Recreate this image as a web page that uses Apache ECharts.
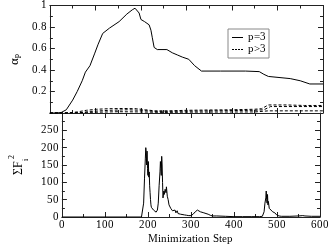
<!DOCTYPE html>
<html><head><meta charset="utf-8">
<script src="https://cdn.jsdelivr.net/npm/echarts@6/dist/echarts.min.js"></script>
<style>
@font-face{font-family:'RefSerif';src:local('Liberation Serif'),local('LiberationSerif'),local('LiberationSerif-Regular'),local('Times New Roman');}
html,body{margin:0;padding:0;background:#fff}#c{width:332px;height:246px}
</style>
</head><body><div id="c"></div>
<script>
// Top panel: alpha_p
const p3Steps = [0,15,25,36,50,60,71,78,88,98,106,116,131,152,169,181,187,191,196,200,208,218,222,225,229,236,257,269,280,291,305,318,333,375,430,460,470,480,528,550,571,600];
const p3Vals  = [0,0,0.005,0.03,0.12,0.2,0.30,0.38,0.44,0.55,0.64,0.74,0.79,0.85,0.92,0.96,0.975,0.97,0.93,0.87,0.85,0.82,0.77,0.70,0.61,0.59,0.59,0.56,0.54,0.52,0.50,0.44,0.39,0.39,0.39,0.385,0.36,0.34,0.32,0.30,0.27,0.27];
const p4Steps = [0,40,60,80,103,130,160,190,210,230,260,300,350,400,450,465,480,520,560,600];
const p4Vals  = [0,0,0.01,0.025,0.035,0.04,0.042,0.04,0.03,0.02,0.02,0.025,0.028,0.03,0.035,0.04,0.075,0.075,0.07,0.07];
const p5Steps = [0,60,90,130,170,200,230,260,350,450,470,485,600];
const p5Vals  = [0,0,0.015,0.025,0.03,0.025,0.015,0.015,0.02,0.025,0.03,0.06,0.06];
const p6Steps = [0,80,150,200,250,300,450,480,600];
const p6Vals  = [0,0.005,0.012,0.01,0.005,0.008,0.01,0.02,0.02];
// Bottom panel: sum F_i^2
const fSteps = [0,185,188,190,192,194,195,196,197,198,199,200,201,202,203,204,205,206,207,208,210,213,216,219,222,224,226,228,229,230,231,232,233,234,235,236,237,238,240,242,243,245,247,249,251,253,255,257,259,261,263,265,268,270,273,276,280,285,290,295,300,305,310,315,318,322,326,330,335,340,345,350,360,380,400,420,440,460,466,470,472,474,475,476,477,478,479,480,482,484,486,490,495,500,505,510,530,550,560,565,580,600];
const fVals  = [0,0,5,40,110,170,200,185,150,190,140,120,160,115,130,90,70,50,35,28,25,20,15,14,20,40,90,130,160,140,120,175,150,100,55,60,75,65,80,70,87,60,50,35,40,25,30,18,22,15,20,12,18,10,12,8,8,6,5,4,4,8,15,20,18,15,16,12,10,8,5,3,3,2,1,1,1,1,2,15,40,55,75,50,40,65,35,45,25,30,20,15,12,5,3,2,2,3,4,3,2,2];
const legendNames = ['p=3','p>3'];

const pairs = (xs, ys) => xs.map((x,i)=>[x, ys[i]]);
const FONT = "RefSerif, 'Liberation Serif', serif";
const AX = '#222';
function xAx(grid, pos, labels, name){
  return {type:'value', gridIndex:grid, position:pos, min:0, max:600, interval:100,
    axisLine:{show:true, onZero:false, lineStyle:{color:AX,width:1}},
    axisTick:{show:true, inside:true, length:5, lineStyle:{color:AX}},
    minorTick:{show:true, splitNumber:2, length:3, lineStyle:{color:AX}},
    splitLine:{show:false},
    axisLabel:{show:labels, color:'#000', fontFamily:FONT, fontSize:11, margin:3},
    name:name||'', nameLocation:'middle', nameGap:17,
    nameTextStyle:{color:'#000', fontFamily:FONT, fontSize:11}};
}
function yAx(grid, pos, labels, min, max, interval, fmt, name, rich){
  return {type:'value', gridIndex:grid, position:pos, min:min, max:max, interval:interval,
    axisLine:{show:true, onZero:false, lineStyle:{color:AX,width:1}},
    axisTick:{show:true, inside:true, length:5, lineStyle:{color:AX}},
    minorTick:{show:true, splitNumber:2, length:3, lineStyle:{color:AX}},
    splitLine:{show:false},
    axisLabel:{show:labels, color:'#000', fontFamily:FONT, fontSize:11, margin:3, formatter:fmt},
    name:name||'', nameLocation:'middle', nameRotate:90, nameGap:24,
    nameTextStyle:{color:'#000', fontFamily:FONT, fontSize:12, rich:rich||{}}};
}
const richA = {
  m:{fontFamily:FONT, fontSize:13, color:'#000', lineHeight:20, verticalAlign:'bottom'},
  s:{fontFamily:FONT, fontSize:8, color:'#000', lineHeight:20, verticalAlign:'bottom'}
};
const richF = {
  m:{fontFamily:FONT, fontSize:12, color:'#000', lineHeight:22, verticalAlign:'middle'},
  s:{fontFamily:FONT, fontSize:8, color:'#000', lineHeight:22, verticalAlign:'bottom'},
  u:{fontFamily:FONT, fontSize:8, color:'#000', lineHeight:22, verticalAlign:'top'}
};
const dashed = {color:'#000', width:1, type:[3,2]};
const option = {
  animation:false,
  backgroundColor:'#fff',
  textStyle:{fontFamily:FONT},
  grid:[{left:38, right:9, top:4, height:109}, {left:38, right:9, top:113, height:110}],
  legend:{left:228, top:29, orient:'vertical', padding:[3,3,3,4], itemGap:1, itemWidth:11, itemHeight:1,
    borderColor:'#888', borderWidth:1, textStyle:{color:'#000', fontFamily:FONT, fontSize:11},
    data:[
      {name:legendNames[0], icon:'path://M0,0H11V1H0Z', itemStyle:{color:'#000'}},
      {name:legendNames[1], icon:'path://M0,0H2V1H0Z M3,0H5V1H3Z M6,0H8V1H6Z M9,0H11V1H9Z', itemStyle:{color:'#000'}}
    ]},
  xAxis:[xAx(0,'bottom',false), xAx(0,'top',false), xAx(1,'bottom',true,'Minimization Step'), xAx(1,'top',false)],
  yAxis:[
    yAx(0,'left',true,0,1,0.2,v=>v===0?'':String(+v.toFixed(1)),'{m|α}{s|p}',richA),
    yAx(0,'right',false,0,1,0.2),
    yAx(1,'left',true,0,300,50,v=>v===300?'':String(v),'{m|ΣF}{s|i}{u|2}',richF),
    yAx(1,'right',false,0,300,50)
  ],
  series:[
    {name:'p=3', type:'line', xAxisIndex:0, yAxisIndex:0, data:pairs(p3Steps,p3Vals), symbol:'none', lineStyle:{color:'#000',width:1}, itemStyle:{color:'#000'}},
    {name:'p>3', type:'line', xAxisIndex:0, yAxisIndex:0, data:pairs(p4Steps,p4Vals), symbol:'none', lineStyle:dashed, itemStyle:{color:'#000'}},
    {name:'p>3', type:'line', xAxisIndex:0, yAxisIndex:0, data:pairs(p5Steps,p5Vals), symbol:'none', lineStyle:dashed, itemStyle:{color:'#000'}},
    {name:'p>3', type:'line', xAxisIndex:0, yAxisIndex:0, data:pairs(p6Steps,p6Vals), symbol:'none', lineStyle:dashed, itemStyle:{color:'#000'}},
    {name:'F', type:'line', xAxisIndex:2, yAxisIndex:2, data:pairs(fSteps,fVals), symbol:'none', lineStyle:{color:'#000',width:1}, itemStyle:{color:'#000'}}
  ]
};
function draw(){
  const chart = echarts.init(document.getElementById('c'), null, {renderer:'canvas'});
  chart.setOption(option);
}
if (document.fonts && document.fonts.load) {
  document.fonts.load('11px RefSerif').then(draw, draw);
} else { draw(); }
</script></body></html>
